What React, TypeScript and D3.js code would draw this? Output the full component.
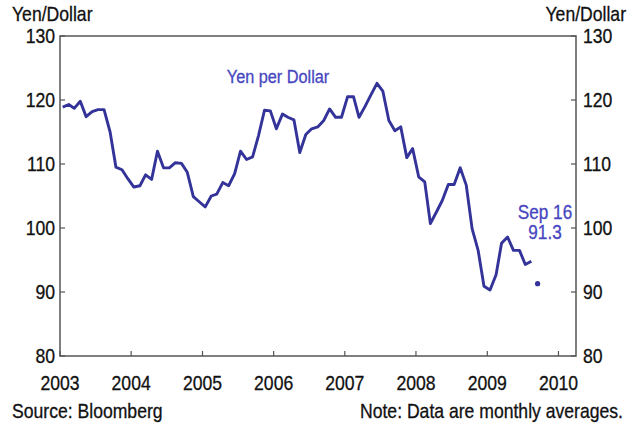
import React from "react";
import * as d3 from "d3";

const months: string[] = [
  "2003-01","2003-02","2003-03","2003-04","2003-05","2003-06","2003-07","2003-08","2003-09","2003-10","2003-11","2003-12",
  "2004-01","2004-02","2004-03","2004-04","2004-05","2004-06","2004-07","2004-08","2004-09","2004-10","2004-11","2004-12",
  "2005-01","2005-02","2005-03","2005-04","2005-05","2005-06","2005-07","2005-08","2005-09","2005-10","2005-11","2005-12",
  "2006-01","2006-02","2006-03","2006-04","2006-05","2006-06","2006-07","2006-08","2006-09","2006-10","2006-11","2006-12",
  "2007-01","2007-02","2007-03","2007-04","2007-05","2007-06","2007-07","2007-08","2007-09","2007-10","2007-11","2007-12",
  "2008-01","2008-02","2008-03","2008-04","2008-05","2008-06","2008-07","2008-08","2008-09","2008-10","2008-11","2008-12",
  "2009-01","2009-02","2009-03","2009-04","2009-05","2009-06","2009-07","2009-08",
];

const yenPerDollar: number[] = [
  118.9, 119.3, 118.7, 119.8, 117.4, 118.2, 118.5, 118.5, 115.0, 109.5, 109.1, 107.7,
  106.4, 106.6, 108.3, 107.6, 112.0, 109.4, 109.4, 110.2, 110.1, 108.7, 104.9, 104.1,
  103.3, 105.0, 105.3, 107.1, 106.6, 108.5, 112.0, 110.7, 111.1, 114.4, 118.4, 118.3,
  115.5, 117.8, 117.3, 116.9, 111.8, 114.6, 115.5, 115.8, 116.8, 118.6, 117.3, 117.3,
  120.5, 120.5, 117.3, 119.0, 120.8, 122.6, 121.4, 116.8, 115.2, 115.8, 111.0, 112.4,
  108.0, 107.2, 100.7, 102.5, 104.3, 106.8, 106.8, 109.4, 106.7, 99.9, 96.5, 90.9,
  90.3, 92.7, 97.6, 98.6, 96.5, 96.5, 94.3, 94.8,
];

const latestDate = "2009-09-16";
const latestValue = 91.3;

const yTicks: number[] = [80, 90, 100, 110, 120, 130];
const yearTicks: number[] = [2003, 2004, 2005, 2006, 2007, 2008, 2009, 2010];

const seriesLabel = "Yen per Dollar";
const latestLabel = "Sep 16";
const axisTitle = "Yen/Dollar";
const sourceText = "Source: Bloomberg";
const noteText = "Note: Data are monthly averages.";

const W = 635;
const H = 425;
const L = 60;
const R = 576;
const T = 36;
const B = 356;

const FONT = "'Liberation Sans', Arial, sans-serif";
const LINE = "#333399";
const LABEL = "#4646c0";
const AXIS = "#555555";
const TEXT = "#111111";
const SX = 0.88;

type NTProps = {
  x: number;
  y: number;
  size: number;
  anchor?: "start" | "middle" | "end";
  fill?: string;
  dy?: string;
  children: React.ReactNode;
};

function NText({ x, y, size, anchor = "start", fill = TEXT, dy, children }: NTProps) {
  return (
    <g transform={`translate(${x},${y}) scale(${SX},1)`}>
      <text
        x={0}
        y={0}
        dy={dy}
        textAnchor={anchor}
        fontSize={size}
        fill={fill}
        stroke={fill}
        strokeWidth={0.3}
      >
        {children}
      </text>
    </g>
  );
}

export default function App() {
  const x = d3
    .scaleTime()
    .domain([new Date(2003, 0, 1), new Date(2010, 3, 1)])
    .range([L, R]);
  const y = d3.scaleLinear().domain([80, 130]).range([B, T]);

  const data = months.map((m, i) => {
    const [yy, mm] = m.split("-").map(Number);
    return { date: new Date(yy, mm - 1, 15), value: yenPerDollar[i] };
  });
  const line = d3
    .line<{ date: Date; value: number }>()
    .x((d) => x(d.date))
    .y((d) => y(d.value));

  const [ly, lm, ld] = latestDate.split("-").map(Number);
  const latest = new Date(ly, lm - 1, ld);

  return (
    <svg width={W} height={H} style={{ position: "absolute", left: 0, top: 0, background: "#fff" }} fontFamily={FONT}>
      <rect x={0} y={0} width={W} height={H} fill="#fff" />
      {/* frame */}
      <rect x={L} y={T} width={R - L} height={B - T} fill="none" stroke={AXIS} strokeWidth={1.5} />
      {/* y ticks */}
      {yTicks.map((t) => (
        <g key={"y" + t}>
          <line x1={L} x2={L + 5} y1={y(t)} y2={y(t)} stroke={AXIS} strokeWidth={1.2} />
          <line x1={R - 5} x2={R} y1={y(t)} y2={y(t)} stroke={AXIS} strokeWidth={1.2} />
          <NText x={L - 5} y={y(t)} dy="0.36em" anchor="end" size={20}>{t}</NText>
          <NText x={R + 7} y={y(t)} dy="0.36em" anchor="start" size={20}>{t}</NText>
        </g>
      ))}
      {/* x ticks */}
      {yearTicks.map((yr) => (
        <g key={"x" + yr}>
          <line x1={x(new Date(yr, 0, 1))} x2={x(new Date(yr, 0, 1))} y1={B} y2={B - 5} stroke={AXIS} strokeWidth={1.2} />
          <NText x={x(new Date(yr, 0, 1))} y={B + 34} anchor="middle" size={20}>{yr}</NText>
        </g>
      ))}
      {/* axis titles */}
      <NText x={12} y={21} size={20}>{axisTitle}</NText>
      <NText x={626} y={21} size={20} anchor="end">{axisTitle}</NText>
      {/* series */}
      <path d={line(data) || ""} fill="none" stroke={LINE} strokeWidth={2.9} strokeLinejoin="round" />
      <circle cx={x(latest)} cy={y(latestValue)} r={2.6} fill={LINE} />
      {/* annotations */}
      <NText x={278} y={83} size={18.5} anchor="middle" fill={LABEL}>{seriesLabel}</NText>
      <NText x={545} y={219} size={19.5} anchor="middle" fill={LABEL}>{latestLabel}</NText>
      <NText x={545} y={239} size={19.5} anchor="middle" fill={LABEL}>{latestValue}</NText>
      {/* footer */}
      <NText x={12} y={418} size={20}>{sourceText}</NText>
      <NText x={623} y={418} size={20} anchor="end">{noteText}</NText>
    </svg>
  );
}
